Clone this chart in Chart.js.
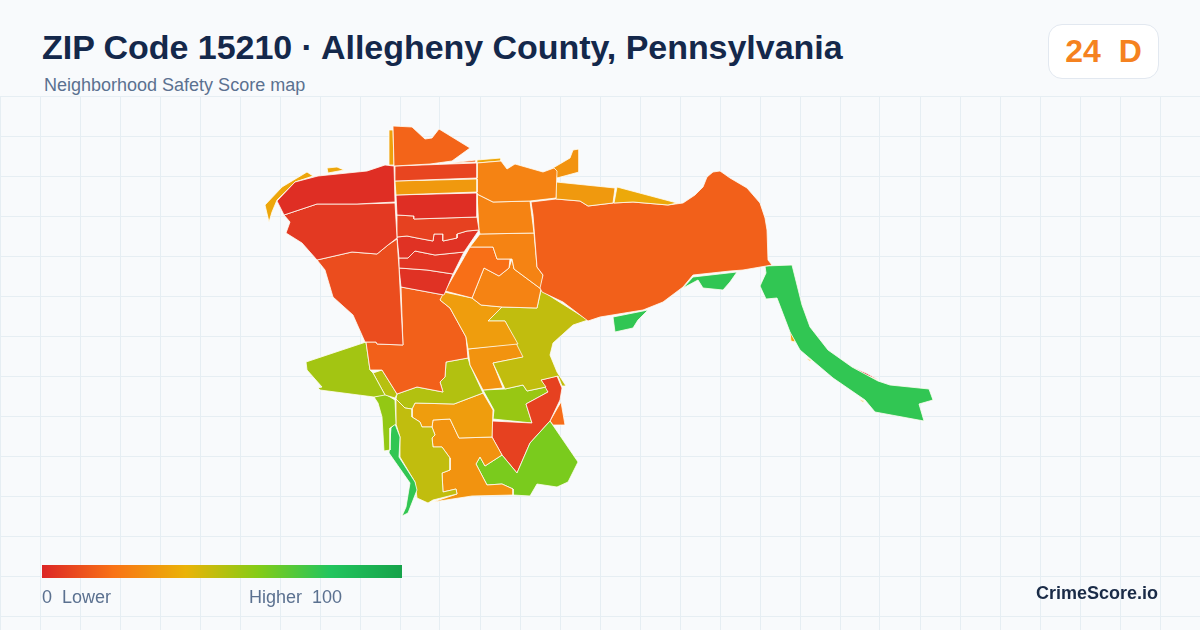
<!DOCTYPE html>
<html>
<head>
<meta charset="utf-8">
<title>ZIP Code 15210</title>
<script src="https://cdn.jsdelivr.net/npm/chart.js@4/dist/chart.umd.js"></script>
<style>
    html, body { margin: 0; padding: 0; }
    body { width: 1200px; height: 630px; background: #f8fafc; position: relative; overflow: hidden; font-family: "Liberation Sans", Arial, sans-serif; }
    #mapChart { position: absolute; left: 0; top: 96px; }
    .title { position: absolute; left: 42px; top: 27px; font-size: 34px; line-height: 40px; font-weight: 700; letter-spacing: -0.04px; color: #14284b; white-space: nowrap; }
    .subtitle { position: absolute; left: 44px; top: 75px; font-size: 18px; line-height: 20px; color: #5b7190; white-space: nowrap; }
    .badge { position: absolute; left: 1048px; top: 24px; width: 109px; height: 53px; box-sizing: content-box; background: #fff; border: 1px solid #e2e8f0; border-radius: 14px; color: #f58220; font-size: 32px; line-height: 53px; font-weight: 700; text-align: center; white-space: pre; }
    .ramp { position: absolute; left: 42px; top: 565px; width: 360px; height: 13px; }
    .ramp-label { position: absolute; top: 587px; font-size: 18px; line-height: 20px; color: #5b7190; white-space: pre; }
    .brand { position: absolute; right: 42px; top: 583px; font-size: 18px; line-height: 20px; font-weight: 700; color: #1a2b47; white-space: nowrap; }
</style>
</head>
<body>
<canvas id="mapChart" width="1200" height="534"></canvas>
<div class="title">ZIP Code 15210 · Allegheny County, Pennsylvania</div>
<div class="subtitle">Neighborhood Safety Score map</div>
<div class="badge">24  D</div>
<div class="ramp" id="ramp"></div>
<div class="ramp-label" style="left:42px">0  Lower</div>
<div class="ramp-label" style="left:249px">Higher  100</div>
<div class="brand">CrimeScore.io</div>
<script>
// 色带
const rampStops = [0, 20, 40, 60, 80, 100];
const rampColors = ['#dc2626', '#f97316', '#eab308', '#84cc16', '#22c55e', '#16a34a'];

// 网格线
const gridX = [0, 40, 80, 120, 160, 200, 240, 280, 320, 360, 400, 440, 480, 520, 560, 600, 640, 680, 720, 760, 800, 840, 880, 920, 960, 1000, 1040, 1080, 1120, 1160];
const gridY = [96, 136, 176, 216, 256, 296, 336, 376, 416, 456, 496, 536, 576, 616];

// 各街区轮廓（地图坐标）
const nwRed = [[277,201],[295,182],[318,176],[367,171],[385,165],[394,166],[395,202],[357,204],[317,204],[284,215]];
const nwBelow = [[284,215],[317,204],[357,204],[395,203],[397,238],[388,245],[377,254],[352,252],[317,260],[302,243],[286,233],[290,222]];
const westMid = [[317,260],[352,252],[377,254],[388,245],[397,239],[399,268],[400,287],[403,345],[377,344],[376,342],[365,342],[353,315],[333,297],[325,270]];
const topCap = [[393,126],[412,127],[425,139],[432,138],[439,129],[470,148],[452,161],[430,164],[394,166]];
const topStrip = [[389,130],[393,130],[394,165],[389,165]];
const shoreSliver = [[265,205],[269,222],[272,212],[277,200],[295,182],[313,176],[307,172],[282,187]];
const shoreFleck = [[327,168],[337,167],[344,170],[328,173]];
const band1 = [[395,166],[477,163],[477,178],[395,181]];
const band2 = [[395,181],[477,179],[477,192],[396,195]];
const band3 = [[396,195],[477,193],[477,217],[414,219],[414,216],[397,215]];
const band4 = [[397,215],[414,216],[414,219],[477,217],[479,230],[467,231],[457,234],[457,238],[443,241],[443,234],[434,234],[433,241],[417,238],[407,236],[397,237]];
const band5 = [[397,237],[407,236],[417,238],[433,241],[434,234],[443,234],[443,241],[457,238],[457,234],[467,231],[479,230],[464,252],[435,255],[415,251],[408,258],[399,258]];
const band6 = [[399,258],[408,258],[415,251],[435,255],[464,252],[453,274],[427,270],[399,268]];
const band7 = [[399,268],[427,270],[453,274],[444,295],[401,287]];
const northEast = [[477,163],[501,161],[507,169],[515,164],[543,172],[554,168],[557,171],[556,198],[530,201],[493,202],[477,194]];
const northSliver = [[477,160],[501,158],[501,161],[477,163]];
const northFleck = [[450,163],[476,160],[476,162]];
const flag = [[553,168],[570,158],[573,150],[579,149],[579,172],[557,178]];
const ridgeA = [[556,182],[615,188],[613,203],[588,206],[580,201],[556,199]];
const ridgeB = [[617,187],[677,203],[668,205],[633,202],[614,203]];
const bigEast = [[531,202],[556,199],[580,201],[588,206],[613,203],[633,202],[668,205],[683,203],[695,195],[703,187],[707,177],[713,172],[720,171],[730,178],[747,188],[760,203],[765,218],[767,230],[768,260],[772,265],[743,270],[730,271],[693,275],[683,287],[663,302],[643,310],[600,317],[588,321],[563,302],[542,292],[540,288],[543,275],[537,267],[533,215]];
const centerA = [[477,194],[493,202],[530,201],[534,233],[480,234],[479,230]];
const centerB = [[480,234],[534,233],[537,267],[543,275],[541,289],[514,269],[512,259],[497,259],[493,247],[470,247]];
const centerC = [[470,247],[493,247],[497,259],[510,259],[509,268],[499,276],[484,268],[472,298],[445,291]];
const centerD = [[484,268],[499,276],[509,268],[512,259],[514,269],[541,289],[537,308],[502,307],[481,305],[472,298]];
const midYellow = [[440,300],[444,292],[472,298],[481,305],[502,307],[488,321],[505,321],[518,344],[468,349],[466,337],[450,308]];
const midOlive = [[502,307],[537,308],[541,290],[553,298],[588,320],[573,325],[553,343],[550,355],[557,372],[566,386],[562,386],[558,376],[541,380],[546,387],[527,391],[523,385],[505,389],[493,363],[523,357],[505,321],[488,321]];
const midOrange = [[468,349],[518,343],[524,357],[493,363],[503,388],[483,390],[470,365]];
const midRed = [[401,287],[444,295],[440,300],[450,308],[466,337],[468,358],[446,362],[445,377],[440,382],[443,392],[417,387],[397,394],[382,370],[370,370],[366,342],[376,342],[377,344],[403,345]];
const westLime = [[366,342],[370,370],[373,373],[385,395],[374,397],[320,390],[318,388],[322,387],[307,370],[306,362]];
const westNarrow = [[373,373],[382,370],[397,394],[395,398],[385,395]];
const southLime = [[374,397],[385,394],[395,400],[396,424],[390,428],[390,450],[384,451],[382,417],[378,403]];
const riverWest = [[395,424],[400,437],[399,457],[415,482],[417,490],[408,513],[402,516],[406,507],[410,483],[389,453],[391,428]];
const southOlive = [[396,399],[405,408],[412,409],[412,417],[420,422],[422,427],[432,427],[435,435],[432,438],[433,447],[442,447],[450,458],[450,470],[442,473],[443,492],[456,489],[457,494],[433,500],[428,503],[417,498],[415,482],[400,457],[400,437],[396,424]];
const southUpper = [[397,394],[417,387],[443,392],[440,382],[445,377],[446,362],[468,358],[470,365],[483,393],[454,404],[415,403],[412,409],[405,408],[396,399]];
const southYellow = [[415,403],[454,404],[483,393],[493,410],[492,437],[459,438],[450,419],[433,420],[432,427],[422,427],[420,422],[412,417],[412,409]];
const southOrange = [[433,420],[450,419],[459,438],[492,437],[502,455],[485,466],[480,457],[476,464],[487,485],[502,484],[513,489],[513,495],[472,496],[433,502],[457,494],[456,489],[443,492],[442,473],[450,470],[450,458],[442,447],[433,447],[432,438],[435,435],[432,427]];
const southEast = [[476,464],[480,457],[485,466],[502,455],[517,473],[530,443],[550,421],[563,440],[578,462],[568,482],[557,487],[537,484],[530,496],[513,495],[513,489],[502,484],[487,485]];
const southRed = [[492,421],[532,423],[526,404],[548,392],[541,380],[557,376],[562,388],[560,400],[550,421],[530,443],[517,473],[502,455],[492,437]];
const midLime = [[483,390],[505,389],[523,385],[527,391],[546,387],[548,392],[526,404],[532,423],[493,419],[494,410]];
const eastTip = [[561,402],[565,425],[553,425],[550,421],[558,407]];
const riverA = [[613,317],[648,310],[638,320],[633,328],[615,332]];
const riverB = [[683,288],[693,277],[737,272],[730,282],[723,290],[703,288],[698,280]];
const riverMain = [[765,266],[792,265],[802,305],[810,327],[828,350],[852,367],[878,381],[890,385],[929,389],[933,400],[919,404],[924,421],[875,412],[865,400],[833,378],[800,350],[790,332],[777,298],[766,299],[760,286],[766,273]];
const riverRed = [[852,367],[866,373],[879,380],[866,375]];
const fleckA = [[790,332],[794,334],[795,342],[791,341]];
const fleckB = [[806,358],[811,360],[811,362]];
const fleckC = [[859,399],[864,401],[864,403]];
const fleckD = [[703,288],[712,286],[722,289],[712,288]];

// 街区与评分
const tracts = [nwRed, nwBelow, westMid, topCap, topStrip, shoreSliver, shoreFleck, band1, band2, band3, band4, band5, band6, band7, northEast, northSliver, northFleck, flag, ridgeA, ridgeB, bigEast, centerA, centerB, centerC, centerD, midYellow, midOlive, midOrange, midRed, westLime, westNarrow, southLime, riverWest, southOlive, southUpper, southYellow, southOrange, southEast, southRed, midLime, eastTip, riverA, riverB, riverMain, riverRed, fleckA, fleckB, fleckC, fleckD];
const scores = [2, 5, 10, 16, 34, 36, 36, 8, 32, 2, 7, 3, 4, 3, 25, 36, 14, 30, 32, 37, 15, 25, 25, 19, 25, 33, 48, 30, 15, 54, 50, 57, 77, 48, 51, 33, 30, 62, 7, 56, 18, 77, 77, 77, 0, 36, 36, 36, 36];

function hexToRgb(hex) {
    return [1, 3, 5].map(i => parseInt(hex.slice(i, i + 2), 16));
}

// 评分转颜色
function scoreColor(score) {
    let i = 0;
    while (i < rampStops.length - 2 && score > rampStops[i + 1]) i++;
    const t = (score - rampStops[i]) / (rampStops[i + 1] - rampStops[i]);
    const a = hexToRgb(rampColors[i]);
    const b = hexToRgb(rampColors[i + 1]);
    const c = a.map((v, k) => Math.round(v + (b[k] - v) * t));
    return `rgb(${c[0]}, ${c[1]}, ${c[2]})`;
}

document.getElementById('ramp').style.background = 'linear-gradient(90deg, ' +
    rampColors.map((c, i) => `${c} ${rampStops[i]}%`).join(', ') + ')';

const datasets = tracts.map((shape, i) => ({
    data: shape.concat([shape[0]]).map(p => ({ x: p[0], y: p[1] })),
    showLine: true,
    fill: 'shape',
    tension: 0,
    pointRadius: 0,
    borderWidth: 0.8,
    borderColor: '#fffdf2',
    backgroundColor: scoreColor(scores[i])
}));

new Chart(document.getElementById('mapChart').getContext('2d'), {
    type: 'scatter',
    data: { datasets: datasets },
    options: {
        responsive: false,
        animation: false,
        events: [],
        layout: { padding: 0 },
        plugins: {
            legend: { display: false },
            tooltip: { enabled: false }
        },
        scales: {
            x: {
                type: 'linear',
                min: 0,
                max: 1200,
                afterBuildTicks: axis => { axis.ticks = gridX.map(v => ({ value: v })); },
                grid: { color: '#e6eef3', drawTicks: false },
                border: { display: false },
                ticks: { display: false }
            },
            y: {
                type: 'linear',
                reverse: true,
                min: 96,
                max: 630,
                afterBuildTicks: axis => { axis.ticks = gridY.map(v => ({ value: v })); },
                grid: { color: '#e6eef3', drawTicks: false },
                border: { display: false },
                ticks: { display: false }
            }
        }
    }
});
</script>
</body>
</html>
